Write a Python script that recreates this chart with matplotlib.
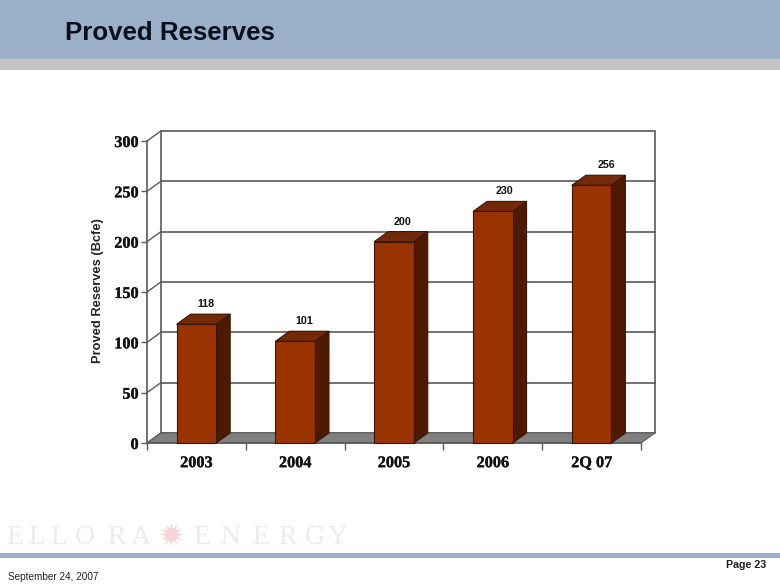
import matplotlib
matplotlib.use("Agg")
import matplotlib.pyplot as plt
import matplotlib.patheffects as pe
from matplotlib.patches import Polygon, Rectangle

categories = ["2003", "2004", "2005", "2006", "2Q 07"]
reserves = [118, 101, 200, 230, 256]
yticks = [0, 50, 100, 150, 200, 250, 300]

W, H = 780, 587
FRONT = "#993300"
SIDE = "#4d1a00"
TOP = "#732a08"
EDGE = "#3a1404"
LINE = "#5a5a5a"
DX = 14 / 98.8   # 3d depth in data units
DY = 10.0
BAR = 0.4
label_nudge = [0.095, 0.095, 0.09, 0.12, 0.155]
heavy = [pe.withStroke(linewidth=0.2, foreground="#111111")]

fig = plt.figure(figsize=(W / 100, H / 100), dpi=100)

# slide furniture, in pixels
bg = fig.add_axes([0, 0, 1, 1])
bg.set_xlim(0, W)
bg.set_ylim(H, 0)
bg.axis("off")
bg.add_patch(Rectangle((0, 0), W, 59, fc="#9bb0c8", ec="none"))
bg.add_patch(Rectangle((0, 59), W, 11, fc="#c4c4c4", ec="none"))
bg.add_patch(Rectangle((0, 553), W, 5, fc="#9db1ca", ec="none"))
bg.text(65, 33, "Proved Reserves", family="Liberation Sans", weight="bold",
        fontsize=18.6, color="#0a0f1e", va="center")
bg.text(8, 577, "September 24, 2007", family="Liberation Sans", fontsize=7.2,
        color="#222222", va="center")
bg.text(766, 565, "Page 23", family="Liberation Sans", weight="bold", fontsize=7.7,
        color="#222222", va="center", ha="right")
logo = [("E", 6), ("L", 28), ("L", 50), ("O", 75), ("R", 107), ("A", 131),
        ("E", 193), ("N", 220), ("E", 252), ("R", 278), ("G", 305), ("Y", 328)]
for ch, px in logo:
    bg.text(px, 544, ch, family="Liberation Serif", fontsize=20,
            color="#ebeced", va="baseline")
bg.plot([171], [534], marker=(12, 1, 0), ms=17, color="#f6d5da", mew=0)

ax = fig.add_axes([147 / W, 1 - 443 / H, 494 / W, 302 / H])
ax.set_xlim(0, len(categories))
ax.set_ylim(0, 300)
ax.patch.set_alpha(0)
for s in ["top", "right", "bottom"]:
    ax.spines[s].set_visible(False)
ax.spines["left"].set_color(LINE)
ax.spines["left"].set_linewidth(1.2)

n = len(categories)
# back wall and floor
ax.add_patch(Polygon([(DX, DY), (n + DX, DY), (n + DX, 300 + DY), (DX, 300 + DY)],
                     fc="white", ec=LINE, lw=1.2, clip_on=False, zorder=1))
ax.add_patch(Polygon([(0, 0), (n, 0), (n + DX, DY), (DX, DY)],
                     fc="#808080", ec=LINE, lw=0.8, clip_on=False, zorder=1.5))
for t in yticks:
    ax.plot([0, DX], [t, t + DY], color=LINE, lw=1.0, clip_on=False, zorder=1.2)
    if 0 < t < 300:
        ax.plot([DX, n + DX], [t + DY, t + DY], color=LINE, lw=1.2, clip_on=False, zorder=1.2)

# bars
for i, v in enumerate(reserves):
    c = i + 0.5
    l, r = c - BAR / 2, c + BAR / 2
    ax.bar(c, v, BAR, color=FRONT, edgecolor=EDGE, lw=0.8, zorder=3, clip_on=False)
    ax.add_patch(Polygon([(r, 0), (r + DX, DY), (r + DX, v + DY), (r, v)],
                         fc=SIDE, ec=EDGE, lw=0.8, clip_on=False, zorder=2.9))
    ax.add_patch(Polygon([(l, v), (r, v), (r + DX, v + DY), (l + DX, v + DY)],
                         fc=TOP, ec=EDGE, lw=0.8, clip_on=False, zorder=2.9))
    ax.text(c + label_nudge[i], v + 20, str(v), family="Liberation Sans", weight="bold",
            fontsize=7.7, ha="center", va="center", color="#111111", zorder=4)

ax.set_yticks(yticks)
ax.set_xticks(range(n + 1))
ax.set_xticklabels([])
ax.tick_params(axis="y", length=4, width=1.0, color=LINE, pad=2)
ax.tick_params(axis="x", length=5, width=1.0, color=LINE)
for lab in ax.get_yticklabels():
    lab.set_family("Liberation Serif")
    lab.set_weight("bold")
    lab.set_fontsize(11.7)
    lab.set_color("#111111")
    lab.set_path_effects(heavy)
for i, name in enumerate(categories):
    ax.text(i + 0.5, -24, name, family="Liberation Serif", weight="bold", fontsize=11.7,
            ha="center", va="baseline", color="#111111", path_effects=heavy)
ax.plot([0, n], [0, 0], color=LINE, lw=1.2, clip_on=False, zorder=2)

bg.text(98, 291, "Proved Reserves (Bcfe)", family="Liberation Sans", weight="bold",
        fontsize=9.3, rotation=90, ha="center", va="center", color="#222222")

fig.savefig("out.png", dpi=100)
